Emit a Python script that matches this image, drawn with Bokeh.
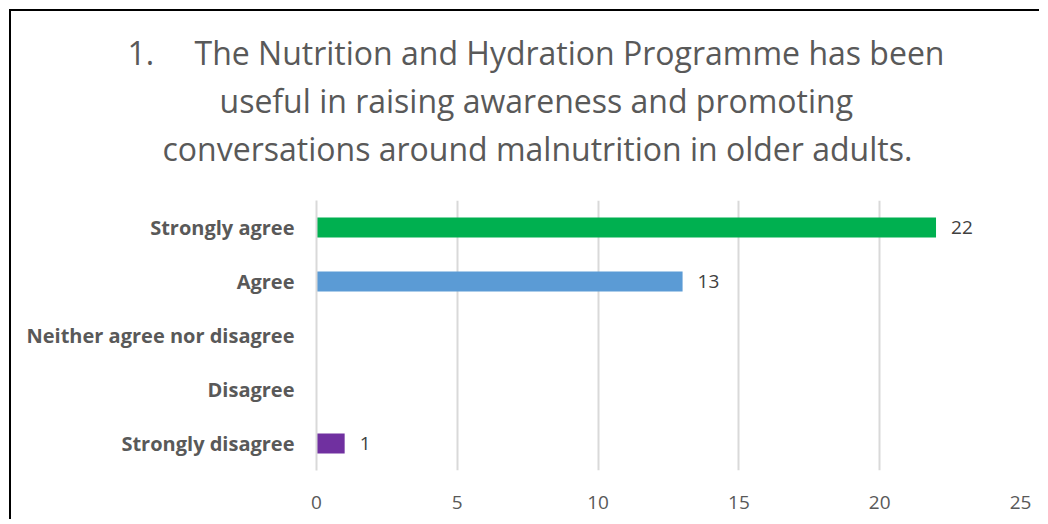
from bokeh.plotting import figure
from bokeh.models import FactorRange, Range1d, FixedTicker, LabelSet, ColumnDataSource, Title
from bokeh.core.properties import value
from bokeh.embed import file_html
from bokeh.resources import INLINE

categories = ["Strongly agree", "Agree", "Neither agree nor disagree", "Disagree", "Strongly disagree"]
counts = [22, 13, 0, 0, 1]
bar_colors = ["#00B050", "#5B9BD5", "#A5A5A5", "#FFC000", "#7030A0"]
x_ticks = [0, 5, 10, 15, 20, 25]
title_lines = [
    "1.\u2003\u00a0The Nutrition and Hydration Programme has been",
    "useful in raising awareness and promoting",
    "conversations around malnutrition in older adults.",
]

FONT = "Open Sans"
GREY = "#595959"

W, H = 1030, 510
FL, FR, FT, FB = 305, 1009, 189, 459

p = figure(
    width=W, height=H,
    y_range=FactorRange(factors=categories[::-1], range_padding=0),
    x_range=Range1d(0, 25),
    output_backend="svg", toolbar_location=None,
    min_border_left=FL, min_border_right=W - FR,
    min_border_top=FT, min_border_bottom=H - FB,
)
p.title = None
p.styles = {"border-left": "2px solid #000000", "border-top": "2px solid #000000",
            "margin-left": "9px", "margin-top": "9px"}
p.outline_line_color = None
p.background_fill_color = "white"
p.border_fill_color = "white"

src = ColumnDataSource(dict(cat=categories, val=counts, color=bar_colors))
p.hbar(y="cat", right="val", left=0, height=0.37, color="color", source=src, line_color=None)

lab_cats = [c for c, v in zip(categories, counts) if v > 0]
lab_vals = [v for v in counts if v > 0]
lsrc = ColumnDataSource(dict(cat=lab_cats, val=lab_vals, txt=[str(v) for v in lab_vals]))
p.add_layout(LabelSet(x="val", y="cat", text="txt", source=lsrc, x_offset=15,
                      text_align="left", text_baseline="middle",
                      text_font=value(FONT), text_font_size="19px", text_color="#404040"))

p.xaxis.ticker = FixedTicker(ticks=x_ticks)
p.xaxis.axis_line_color = None
p.xaxis.major_tick_line_color = None
p.xaxis.minor_tick_line_color = None
p.xaxis.major_label_text_font = FONT
p.xaxis.major_label_text_font_size = "19px"
p.xaxis.major_label_text_color = GREY
p.xaxis.major_label_standoff = 19

p.yaxis.axis_line_color = "#D9D9D9"
p.yaxis.axis_line_width = 2
p.yaxis.major_tick_line_color = None
p.yaxis.minor_tick_line_color = None
p.yaxis.major_label_text_font = FONT
p.yaxis.major_label_text_font_size = "20px"
p.yaxis.major_label_text_font_style = "bold"
p.yaxis.major_label_text_color = GREY
p.yaxis.major_label_standoff = 16

p.xgrid.grid_line_color = "#D9D9D9"
p.xgrid.grid_line_width = 2
p.ygrid.grid_line_color = None

# spacer between the frame and the title block
p.add_layout(Title(text=" ", text_font_size="1px", standoff=26), "above")
# title lines, added from the frame outward
offsets = [127 - 316, 219 - 316, 162 - 316]
for line, off in list(zip(title_lines, offsets))[::-1]:
    p.add_layout(Title(text=line, align="left", offset=off, text_font=FONT,
                       text_font_size="32px", text_font_style="normal",
                       text_color=GREY, standoff=2.5), "above")

open("out.html", "w").write(file_html(p, INLINE))
